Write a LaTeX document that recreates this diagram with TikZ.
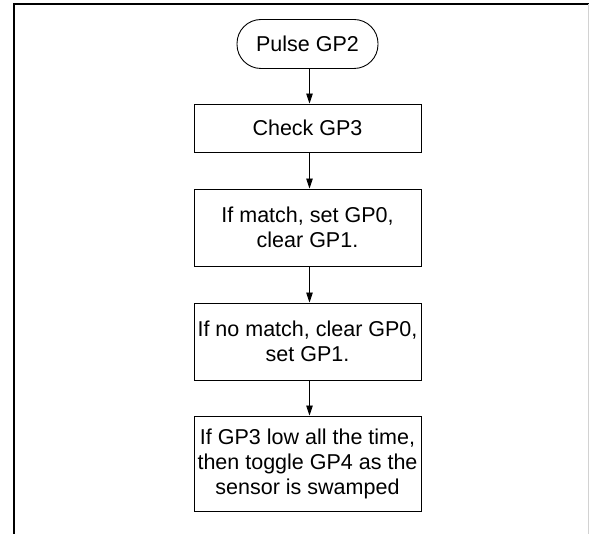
\documentclass[tikz,border=0pt]{standalone}
\usepackage{fontspec}
\setmainfont{Liberation Sans}
\usetikzlibrary{arrows.meta}
\begin{document}
\begin{tikzpicture}[x=1pt,y=-1pt,
  txt/.style={font=\fontsize{21.5}{25}\selectfont, align=center, inner sep=0pt},
  term/.style={txt, draw, line width=0.9pt, rounded corners=24pt, minimum width=141pt, minimum height=49pt},
  proc/.style={txt, draw, line width=0.9pt, minimum width=227pt},
  flow/.style={line width=0.9pt, -{Triangle[length=10pt,width=6.5pt]}},
  frame/.style={line width=2pt}]
\useasboundingbox (0,0) rectangle (589,534);
\coordinate (fl) at (14,534);
\coordinate (ftl) at (14,4);
\coordinate (ftr) at (589,4);
\coordinate (gr1) at (588,4);
\coordinate (gr2) at (588,534);
\draw[frame] (fl) -- (ftl) -- (ftr);
\draw[gray!35, line width=1pt] (gr1) -- (gr2);
\node[term] (t) at (307.5,44) {Pulse GP2};
\node[proc, minimum height=48pt] (b1) at (307.5,128) {Check GP3};
\node[proc, minimum height=77pt] (b2) at (307.5,227.5) {If match, set GP0,\\clear GP1.};
\node[proc, minimum height=77pt] (b3) at (307.5,341.5) {If no match, clear GP0,\\set GP1.};
\node[proc, minimum height=95pt] (b4) at (307.5,463.5) {If GP3 low all the time,\\then toggle GP4 as the\\sensor is swamped};
\draw[flow] ([xshift=2pt]t.south) -- ([xshift=2pt]b1.north);
\draw[flow] ([xshift=2pt]b1.south) -- ([xshift=2pt]b2.north);
\draw[flow] ([xshift=2pt]b2.south) -- ([xshift=2pt]b3.north);
\draw[flow] ([xshift=2pt]b3.south) -- ([xshift=2pt]b4.north);
\end{tikzpicture}
\end{document}
